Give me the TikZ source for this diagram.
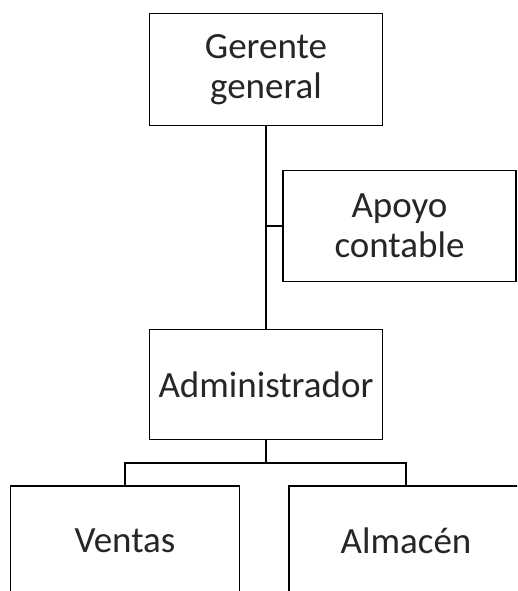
\documentclass[tikz,border=0pt]{standalone}
\usepackage{fontspec}
\setmainfont{Carlito}
\begin{document}
\begin{tikzpicture}[x=1pt,y=-1pt,
  box/.style={draw=black,line width=1.8pt,inner sep=0pt,align=center,
    font=\fontsize{37}{39.5}\selectfont,text=black!85},
  conn/.style={draw=black,line width=1.8pt}]
\useasboundingbox (0,0) rectangle (517,591);
\clip (0,0) rectangle (517,591);
\node[box,minimum width=233pt,minimum height=112pt] (g) at (266,69.5) {Gerente\\general};
\node[box,minimum width=233pt,minimum height=111pt] (ap) at (399.5,226) {Apoyo\\contable};
\node[box,minimum width=233pt,minimum height=110pt] (a) at (266,384.5) {Administrador};
\node[box,minimum width=229pt,minimum height=110pt] (v) at (125,541) {Ventas};
\node[box,minimum width=234pt,minimum height=110pt] (al) at (406,541) {Almacén};
\coordinate (j) at (266,463);
\draw[conn] (g.south) -- (a.north);
\draw[conn] (ap.west) -- (g.south |- ap.west);
\draw[conn] (a.south) -- (j);
\draw[conn] (v.north) |- (j) -| (al.north);
\end{tikzpicture}
\end{document}
